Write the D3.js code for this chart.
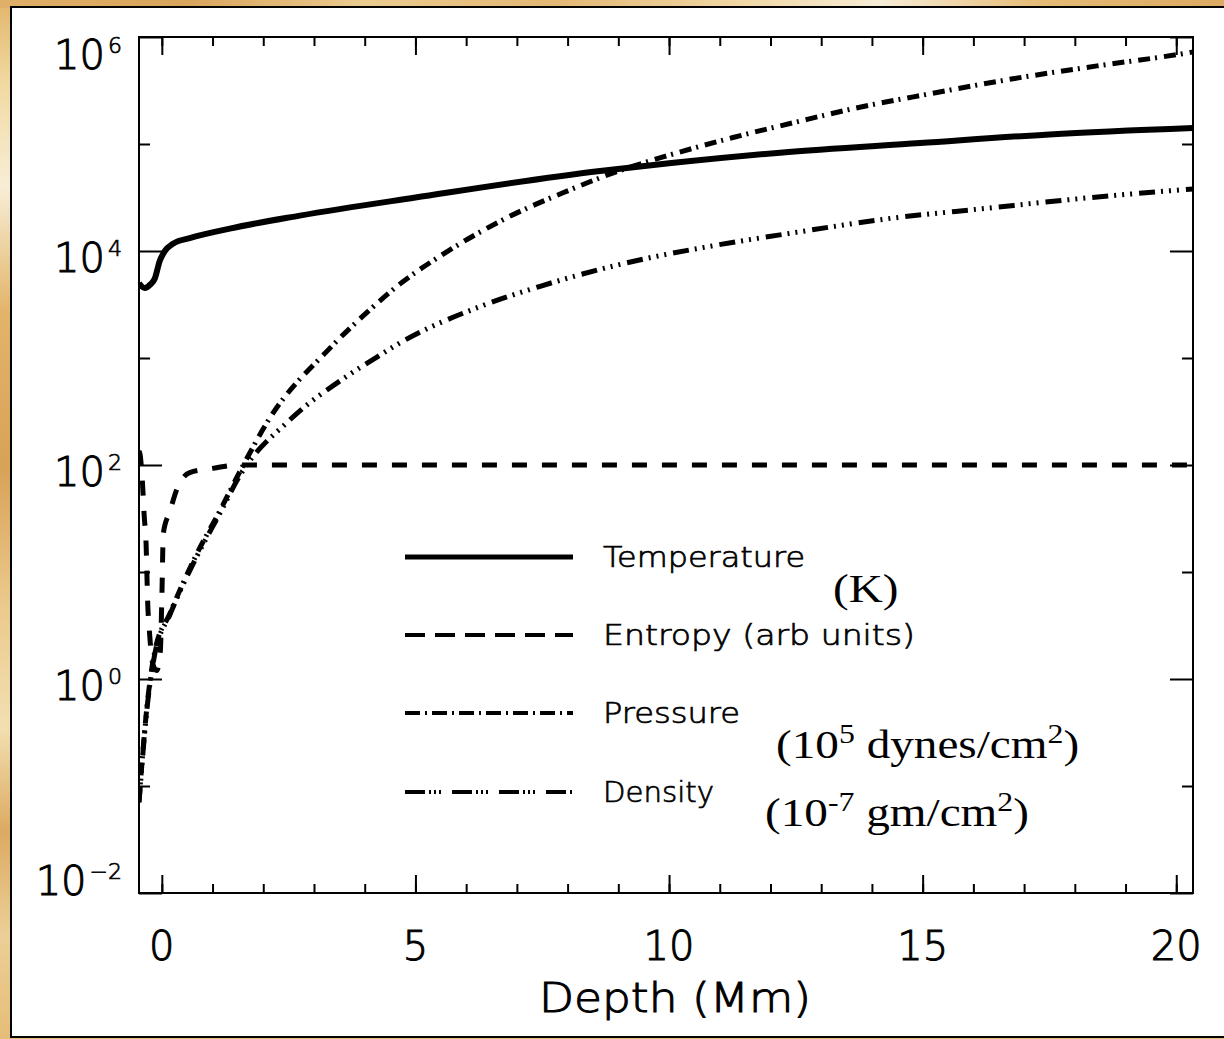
<!DOCTYPE html>
<html>
<head>
<meta charset="utf-8">
<script src="https://cdn.jsdelivr.net/npm/d3@7"></script>
<style>
html, body { margin: 0; padding: 0; background: #fff; }
svg { display: block; }
</style>
</head>
<body>
<div id="chart"></div>
<script>
// depth in Mm
var tempDepth = [-0.45, -0.34, -0.22, -0.14, -0.04, 0.06, 0.22, 0.55, 1.34, 2.72, 5.0, 8.64, 10.0, 12.19, 14.95, 17.5, 20.33];
var tempValue = [5000, 4500, 4900, 5500, 8100, 10000, 11700, 13200, 16200, 21400, 31600, 56000, 66000, 83000, 102000, 123000, 141000];

var entDepth = [-0.45, -0.43, -0.38, -0.35, -0.31, -0.28, -0.24, -0.18, -0.10, -0.03, 0.0, 0.03, 0.16, 0.30, 0.55, 1.0, 1.5, 20.33];
var entValue = [135, 126, 66, 35, 18, 5.4, 2.6, 1.4, 1.2, 1.8, 5.6, 23, 37, 60, 85, 93, 100, 100];

var presDepth = [-0.45, -0.28, -0.14, 0.16, 0.69, 1.14, 1.54, 2.13, 3.31, 4.10, 4.69, 5.54, 6.80, 7.99, 8.90, 9.96, 11.26, 12.45, 13.63, 15.15, 16.78, 18.44, 20.08, 20.33];
var presValue = [0.072, 0.63, 1.8, 4.1, 14.8, 37, 87, 275, 1230, 2820, 4900, 9300, 20400, 36300, 53700, 77600, 115000, 158000, 214000, 295000, 407000, 537000, 692000, 724000];

var densDepth = [-0.45, -0.28, -0.14, 0.16, 0.69, 1.14, 1.54, 2.52, 3.65, 4.24, 4.69, 6.27, 7.46, 9.17, 10.87, 12.45, 14.30, 16.27, 18.11, 20.08, 20.33];
var densValue = [0.07, 0.6, 1.7, 4.0, 14, 35, 80, 263, 676, 1020, 1380, 3020, 4680, 7760, 11200, 14800, 20000, 25100, 30900, 37200, 38000];

var xMajor = [0, 5, 10, 15, 20];
var xMinor = d3.range(0, 21);
var yMajorExp = [-2, 0, 2, 4, 6];
var yMinorExp = [-1, 1, 3, 5];
var legendNames = ["Temperature", "Entropy (arb units)", "Pressure", "Density"];

var W = 1224, H = 1039;
var L = 139, R = 1193, T = 37, B = 893;

var svg = d3.select("#chart").append("svg").attr("width", W).attr("height", H);
var defs = svg.append("defs");

// gold textured border
var gv = defs.append("linearGradient").attr("id", "goldV").attr("x1", 0).attr("y1", 0).attr("x2", 0).attr("y2", 1);
[[0, "#e2b56c"], [0.08, "#f1d9a2"], [0.18, "#f8eed6"], [0.3, "#e2b46a"], [0.45, "#d8a258"], [0.58, "#ebc98c"], [0.7, "#f3dfb2"], [0.8, "#dcaa62"], [0.9, "#eccf98"], [1, "#e6bd78"]]
  .forEach(function (s) { gv.append("stop").attr("offset", s[0]).attr("stop-color", s[1]); });
var gh = defs.append("linearGradient").attr("id", "goldH").attr("x1", 0).attr("y1", 0).attr("x2", 1).attr("y2", 0);
[[0, "#e0b068"], [0.15, "#d9a45c"], [0.3, "#eccb90"], [0.45, "#e3b774"], [0.6, "#f0d6a2"], [0.72, "#f7ecd6"], [0.85, "#e5bb76"], [1, "#dcaa62"]]
  .forEach(function (s) { gh.append("stop").attr("offset", s[0]).attr("stop-color", s[1]); });

svg.append("rect").attr("width", W).attr("height", H).attr("fill", "url(#goldV)");
svg.append("rect").attr("x", 0).attr("y", 0).attr("width", W).attr("height", 8).attr("fill", "url(#goldH)");
svg.append("rect").attr("x", 11).attr("y", 7).attr("width", W + 20).attr("height", 1030)
  .attr("fill", "#fff").attr("stroke", "#000").attr("stroke-width", 2);

defs.append("clipPath").attr("id", "plotclip").append("rect")
  .attr("x", L).attr("y", T).attr("width", R - L).attr("height", B - T);

var x = d3.scaleLinear().domain([-0.45, 20.33]).range([L, R]);
var y = d3.scaleLog().domain([1e-2, 1e6]).range([B, T]);

function addAxis(axis, tx, ty) {
  var g = svg.append("g").attr("transform", "translate(" + tx + "," + ty + ")").call(axis);
  g.select(".domain").remove();
  g.selectAll("line").attr("stroke", "#000").attr("stroke-width", 2);
  return g;
}
var none = function () { return ""; };
addAxis(d3.axisBottom(x).tickValues(xMinor).tickSize(-9).tickFormat(none), 0, B);
addAxis(d3.axisBottom(x).tickValues(xMajor).tickSize(-18).tickFormat(none), 0, B);
addAxis(d3.axisTop(x).tickValues(xMinor).tickSize(-9).tickFormat(none), 0, T);
addAxis(d3.axisTop(x).tickValues(xMajor).tickSize(-18).tickFormat(none), 0, T);
var yMaj = yMajorExp.map(function (e) { return Math.pow(10, e); });
var yMin = yMinorExp.map(function (e) { return Math.pow(10, e); });
addAxis(d3.axisLeft(y).tickValues(yMin).tickSize(-11).tickFormat(none), L, 0);
addAxis(d3.axisLeft(y).tickValues(yMaj).tickSize(-23).tickFormat(none), L, 0);
addAxis(d3.axisRight(y).tickValues(yMin).tickSize(-11).tickFormat(none), R, 0);
addAxis(d3.axisRight(y).tickValues(yMaj).tickSize(-23).tickFormat(none), R, 0);

svg.append("rect").attr("x", L).attr("y", T).attr("width", R - L).attr("height", B - T)
  .attr("fill", "none").attr("stroke", "#000").attr("stroke-width", 2);

// thin sans, close to the plotting package's vector font
var hershey = "'DejaVu Sans ExtraLight', 'DejaVu Sans', sans-serif";
var hw = 200;
function thin(sel, sw) {
  return sel.attr("font-family", hershey).attr("font-weight", hw)
    .attr("stroke", "#000").attr("stroke-width", sw);
}

// y tick labels 10^n
yMajorExp.forEach(function (e) {
  var cy = Math.max(T + 17, Math.min(B - 13, y(Math.pow(10, e)) + 6));
  var t = thin(svg.append("text"), 1).attr("x", 122).attr("y", cy + 14.5)
    .attr("text-anchor", "end").attr("font-size", 40);
  t.append("tspan").text("10");
  t.append("tspan").attr("dy", -16).attr("font-size", 22).attr("dx", 3).attr("stroke-width", 0.7)
    .text(e < 0 ? "\u2212" + (-e) : e);
});

// x tick labels
thin(svg.selectAll(".xlab").data(xMajor).enter().append("text"), 1)
  .attr("x", function (d) { return x(d); }).attr("y", 960)
  .attr("text-anchor", "middle").attr("font-size", 40)
  .text(function (d) { return d; });

thin(svg.append("text"), 1).attr("x", 675).attr("y", 1012).attr("text-anchor", "middle")
  .attr("font-size", 40)
  .attr("textLength", 272).attr("lengthAdjust", "spacingAndGlyphs").text("Depth (Mm)");

// curves
var series = [
  { d: tempDepth, v: tempValue, w: 6, dash: null },
  { d: entDepth, v: entValue, w: 5, dash: "15,15" },
  { d: presDepth, v: presValue, w: 5, dash: "12,5,2,7" },
  { d: densDepth, v: densValue, w: 5, dash: "16,6,2,6,2,6,2,7" }
];
var line = d3.line().x(function (p) { return x(p[0]); }).y(function (p) { return y(p[1]); })
  .curve(d3.curveMonotoneX);
var plot = svg.append("g").attr("clip-path", "url(#plotclip)");
series.forEach(function (s) {
  plot.append("path").datum(d3.zip(s.d, s.v)).attr("d", line)
    .attr("fill", "none").attr("stroke", "#000").attr("stroke-width", s.w)
    .attr("stroke-dasharray", s.dash);
});

// legend
var legY = [557, 635, 713, 792];
var legDash = [null, "20,10", "15,5,2,5", "20,4,2,3,2,3,2,11"];
var legW = [5, 4, 4, 4];
var legLen = [202, 312, 137, 111];
legendNames.forEach(function (n, i) {
  svg.append("line").attr("x1", 405).attr("x2", 573).attr("y1", legY[i]).attr("y2", legY[i])
    .attr("stroke", "#000").attr("stroke-width", legW[i]).attr("stroke-dasharray", legDash[i]);
  thin(svg.append("text"), 0.7).attr("x", 603).attr("y", legY[i] + 10)
    .attr("font-size", 29)
    .attr("textLength", legLen[i]).attr("lengthAdjust", "spacingAndGlyphs").text(n);
});

// unit notes (serif, slightly stretched)
function note(px, py, parts) {
  var g = svg.append("g").attr("transform", "translate(" + px + "," + py + ") scale(1.18,1)");
  var t = g.append("text").attr("font-family", "'Liberation Serif', 'Times New Roman', serif").attr("font-size", 40);
  var up = false;
  parts.forEach(function (p) {
    var sp = t.append("tspan").text(p[0]);
    if (p[1] && !up) { sp.attr("dy", -15).attr("font-size", 27); up = true; }
    else if (p[1]) { sp.attr("font-size", 27); }
    else if (up) { sp.attr("dy", 15); up = false; }
  });
}
note(833, 602, [["(K)", false]]);
note(776, 758, [["(10", false], ["5", true], [" dynes/cm", false], ["2", true], [")", false]]);
note(765, 826, [["(10", false], ["-7", true], [" gm/cm", false], ["2", true], [")", false]]);
</script>
</body>
</html>
